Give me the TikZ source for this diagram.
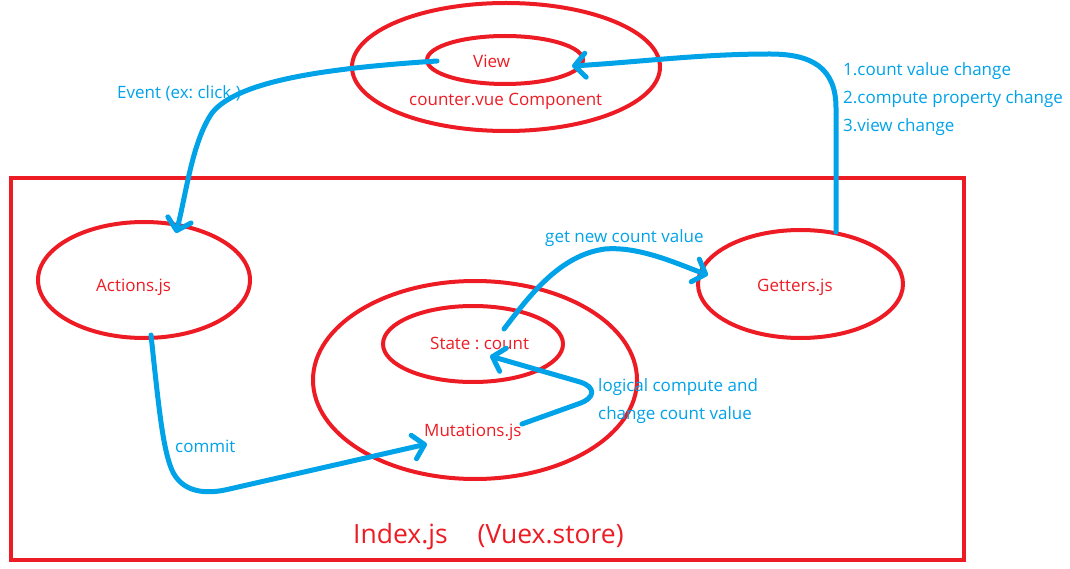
\documentclass[tikz,border=0pt]{standalone}
\usepackage{fontspec}
\setmainfont{Open Sans}
\usetikzlibrary{shapes.geometric,arrows.meta}
\definecolor{pred}{HTML}{ED1C24}
\definecolor{pblue}{HTML}{00A2E8}
\frenchspacing
\begin{document}
\begin{tikzpicture}[x=1pt,y=-1pt,
  ring/.style={draw=pred, line width=4pt, ellipse, inner sep=0pt},
  box/.style={draw=pred, line width=4pt, rectangle, inner sep=0pt},
  rtext/.style={text=pred, font=\fontsize{17}{20}\selectfont, inner sep=0pt, anchor=base west},
  btext/.style={text=pblue, font=\fontsize{17}{20}\selectfont, inner sep=0pt, anchor=base west},
  bigtext/.style={text=pred, font=\fontsize{26.5}{30}\selectfont, inner sep=0pt, anchor=base west},
  flow/.style={draw=pblue, line width=5pt, line cap=round, line join=round,
    -{Straight Barb[length=11pt,width=24pt,line cap=round,line join=round]}}]
\useasboundingbox (0,0) rectangle (1070,569);
% red shapes
\node[box, minimum width=953pt, minimum height=382pt] (store) at (487.5,369) {};
\node[ring, minimum width=308pt, minimum height=128pt] (comp) at (506,67) {};
\node[ring, minimum width=156pt, minimum height=48pt] (view) at (505,60) {};
\node[ring, minimum width=212pt, minimum height=116pt] (actions) at (144,280) {};
\node[ring, minimum width=205pt, minimum height=108pt] (getters) at (800.5,284) {};
\node[ring, minimum width=324pt, minimum height=198pt] (mut) at (475,380) {};
\node[ring, minimum width=180pt, minimum height=76pt] (state) at (473,344) {};
% red labels
\node[rtext] (tview) at (473,68) {View};
\node[rtext] (tcomp) at (409,106) {counter.vue Component};
\node[rtext] (tact) at (96,291) {Actions.js};
\node[rtext] (tget) at (757,291) {Getters.js};
\node[rtext] (tstate) at (430,349) {State : count};
\node[rtext] (tmut) at (424,436) {Mutations.js};
\node[bigtext] (tstore) at (353,543) {Index.js\hspace{30pt}(Vuex.store)};
% blue labels
\node[btext] (levent) at (117,99) {Event (ex: click )};
\node[btext] (lcommit) at (175,452) {commit};
\node[btext] (lget) at (545,243) {get new count value};
\node[btext] (llog1) at (598,391) {logical compute and};
\node[btext] (llog2) at (598,419) {change count value};
\node[btext] (ln1) at (843,76) {1.count value change};
\node[btext] (ln2) at (843,104) {2.compute property change};
\node[btext] (ln3) at (843,132) {3.view change};
% connector ends
\coordinate (a1s) at (437,61);
\coordinate (a1e) at (176,233);
\coordinate (a2s) at (836,232);
\coordinate (a2e) at (572,66);
\coordinate (a3s) at (151,335);
\coordinate (a3e) at (427,444);
\coordinate (a4s) at (504,329);
\coordinate (a4e) at (708,275);
\coordinate (a5s) at (522,424);
\coordinate (a5e) at (490,356);
% blue connectors
\draw[flow] (a1s) .. controls (330,68) and (238,80) .. (212,113)
  .. controls (192,142) and (186,195) .. (a1e);
\draw[flow] (a2s) -- (836,108) .. controls (836,68) and (812,54) .. (770,54)
  .. controls (700,54) and (640,62) .. (a2e);
\draw[flow] (a3s) .. controls (158,400) and (162,442) .. (170,465)
  .. controls (178,490) and (200,495) .. (225,490) -- (a3e);
\draw[flow] (a4s) .. controls (530,295) and (560,255) .. (605,249)
  .. controls (640,246) and (680,265) .. (a4e);
\draw[flow] (a5s) -- (578,404) .. controls (596,398) and (596,387) .. (580,382) -- (a5e);
\end{tikzpicture}
\end{document}
